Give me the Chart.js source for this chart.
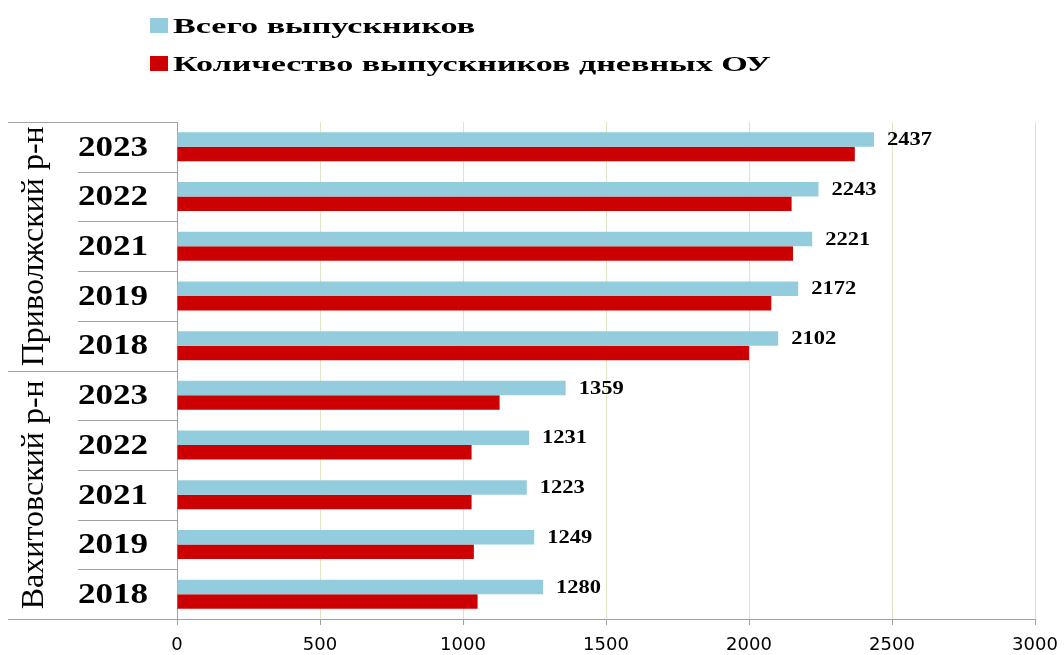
<!DOCTYPE html>
<html lang="ru">
<head>
<meta charset="UTF-8">
<title>Выпускники</title>
<script src="https://cdn.jsdelivr.net/npm/chart.js"></script>
<style>
  body { margin: 0; background: #fff; }
  canvas { display: block; }
</style>
</head>
<body>
<canvas id="gradChart" width="1064" height="655"></canvas>
<script>
    // data
    const groups = ['Приволжский р-н', 'Вахитовский р-н'];
    const years = ['2023', '2022', '2021', '2019', '2018'];
    const seriesNames = ['Всего выпускников', 'Количество выпускников дневных ОУ'];
    const totalGrads = [2437, 2243, 2221, 2172, 2102, 1359, 1231, 1223, 1249, 1280];
    const dayGrads = [2370, 2149, 2154, 2078, 2000, 1128, 1030, 1030, 1038, 1051];
    const xMin = 0, xMax = 3000, xStep = 500;

    const labels = groups.flatMap(() => years);
    const colors = ['#93cddd', '#cc0000'];
    const lineGrey = '#a0a0a0';

    // text squeezed/stretched horizontally like the original image
    function stretchText(ctx, text, x, y, sx, align) {
        ctx.save();
        ctx.translate(x, y);
        ctx.scale(sx, 1);
        ctx.textAlign = align || 'left';
        ctx.fillText(text, 0, 0);
        ctx.restore();
    }

    const tablePlugin = {
        id: 'tablePlugin',
        afterDraw(chart) {
            const ctx = chart.ctx;
            const ys = chart.scales.y;
            const area = chart.chartArea;
            const n = labels.length;
            const y0 = ys.getPixelForValue(0);
            const step = ys.getPixelForValue(1) - y0;
            const per = years.length;

            ctx.save();
            // separator lines of the category table
            ctx.strokeStyle = lineGrey;
            ctx.lineWidth = 1;
            for (let k = 0; k <= n; k++) {
                const yb = Math.round(y0 - step / 2 + k * step) + 0.5;
                const xStart = (k % per === 0) ? 8 : 78;
                ctx.beginPath();
                ctx.moveTo(xStart, yb);
                ctx.lineTo(area.left, yb);
                ctx.stroke();
            }

            // year labels
            ctx.fillStyle = '#000';
            ctx.font = 'bold 30px "Liberation Serif"';
            ctx.textBaseline = 'middle';
            labels.forEach((lab, i) => {
                stretchText(ctx, lab, 113, ys.getPixelForValue(i) + 1, 1.17, 'center');
            });

            // group labels, rotated
            ctx.font = '32px "Liberation Serif"';
            ctx.textBaseline = 'alphabetic';
            groups.forEach((g, gi) => {
                const yc = (ys.getPixelForValue(gi * per) + ys.getPixelForValue(gi * per + per - 1)) / 2;
                ctx.save();
                ctx.translate(43, yc);
                ctx.rotate(-Math.PI / 2);
                ctx.textAlign = 'center';
                ctx.fillText(g, 0, 0);
                ctx.restore();
            });

            // value labels on the total series
            const meta = chart.getDatasetMeta(0);
            ctx.font = 'bold 18px "Liberation Serif"';
            ctx.textBaseline = 'middle';
            meta.data.forEach((bar, i) => {
                stretchText(ctx, String(totalGrads[i]), bar.x + 13, bar.y + 1, 1.25, 'left');
            });

            // legend
            const legendRows = [26, 64];
            ctx.font = 'bold 22px "Liberation Serif"';
            ctx.textBaseline = 'middle';
            seriesNames.forEach((name, i) => {
                ctx.fillStyle = colors[i];
                ctx.fillRect(150, legendRows[i] - 8, 18, 15);
                ctx.fillStyle = '#000';
                stretchText(ctx, name, 173, legendRows[i] + 1, 1.55, 'left');
            });
            ctx.restore();
        }
    };

    new Chart(document.getElementById('gradChart'), {
        type: 'bar',
        data: {
            labels: labels,
            datasets: [{
                label: seriesNames[0],
                data: totalGrads,
                backgroundColor: colors[0],
                barPercentage: 1,
                categoryPercentage: 0.584
            }, {
                label: seriesNames[1],
                data: dayGrads,
                backgroundColor: colors[1],
                barPercentage: 1,
                categoryPercentage: 0.584
            }]
        },
        options: {
            indexAxis: 'y',
            responsive: false,
            animation: false,
            layout: { padding: { top: 122, right: 29, left: 0, bottom: 0 } },
            plugins: {
                legend: { display: false },
                tooltip: { enabled: false }
            },
            scales: {
                x: {
                    min: xMin,
                    max: xMax,
                    ticks: {
                        stepSize: xStep,
                        color: '#000',
                        padding: 10,
                        font: { family: 'DejaVu Sans', size: 18 },
                        callback: v => String(v)
                    },
                    grid: {
                        color: '#dce6c4',
                        tickColor: lineGrey,
                        tickLength: 6
                    },
                    border: { color: lineGrey },
                    afterFit(s) {
                        s.height = 36;
                        s.paddingLeft = 0;
                        s.paddingRight = 0;
                    }
                },
                y: {
                    ticks: { display: false },
                    grid: { display: false },
                    border: { display: true, color: lineGrey },
                    afterFit(s) { s.width = 177; }
                }
            }
        },
        plugins: [tablePlugin]
    });
</script>
</body>
</html>
